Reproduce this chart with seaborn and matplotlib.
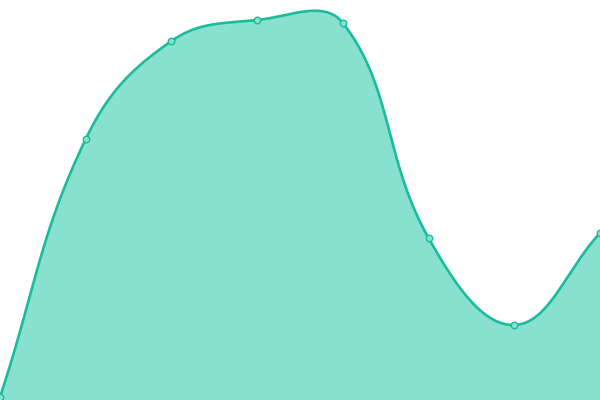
import numpy as np
import pandas as pd
import matplotlib
matplotlib.use("Agg")
import matplotlib.pyplot as plt
import seaborn as sns

# --- DATA ---
labels = ["A", "B", "C", "D", "E", "F", "G", "H"]
values = [3, 261, 359, 380, 377, 162, 75, 167]

LINE_COLOR = "#1abc9c"
FILL_COLOR = "#88e0cf"
TENSION = 0.4
W, H = 600, 400
Y_MAX = 400


def spline_path(xs, ys, tension=TENSION, steps=60):
    """Chart.js-style smoothing: cubic bezier segments through every point."""
    pts = np.column_stack([xs, ys]).astype(float)
    n = len(pts)
    cp_in, cp_out = [], []
    for i in range(n):
        cur = pts[i]
        prev = pts[i - 1] if i > 0 else cur
        nxt = pts[i + 1] if i < n - 1 else cur
        d01 = np.hypot(*(cur - prev))
        d12 = np.hypot(*(nxt - cur))
        tot = d01 + d12
        fa = tension * d01 / tot if tot else 0
        fb = tension * d12 / tot if tot else 0
        cp_in.append(cur - fa * (nxt - prev))
        cp_out.append(cur + fb * (nxt - prev))
    t = np.linspace(0, 1, steps)[:, None]
    segs = []
    for i in range(n - 1):
        p0, p1, p2, p3 = pts[i], cp_out[i], cp_in[i + 1], pts[i + 1]
        seg = ((1 - t) ** 3) * p0 + 3 * ((1 - t) ** 2) * t * p1 \
            + 3 * (1 - t) * t ** 2 * p2 + t ** 3 * p3
        segs.append(seg if i == 0 else seg[1:])
    return np.vstack(segs)


def main():
    df = pd.DataFrame({"label": labels, "value": values})
    df["x"] = np.arange(len(df))

    # smoothing is done in pixel space, like the browser would
    step = W / (len(df) - 1)
    path = spline_path(df["x"] * step, df["value"])
    cx, cy = path[:, 0] / step, path[:, 1]

    fig = plt.figure(figsize=(6, 4), dpi=100)
    ax = fig.add_axes([0, 0, 1, 1])
    ax.fill_between(cx, cy, 0, color=FILL_COLOR, linewidth=0)
    ax.plot(cx, cy, color=LINE_COLOR, linewidth=1.9, solid_capstyle="round")
    sns.scatterplot(data=df, x="x", y="value", ax=ax, s=22,
                    color=FILL_COLOR, edgecolor=LINE_COLOR, linewidth=1,
                    zorder=5, legend=False)

    ax.set_xlim(0, len(df) - 1)
    ax.set_ylim(0, Y_MAX)
    ax.axis("off")
    fig.savefig("out.png", dpi=100, facecolor="white")


if __name__ == "__main__":
    main()
